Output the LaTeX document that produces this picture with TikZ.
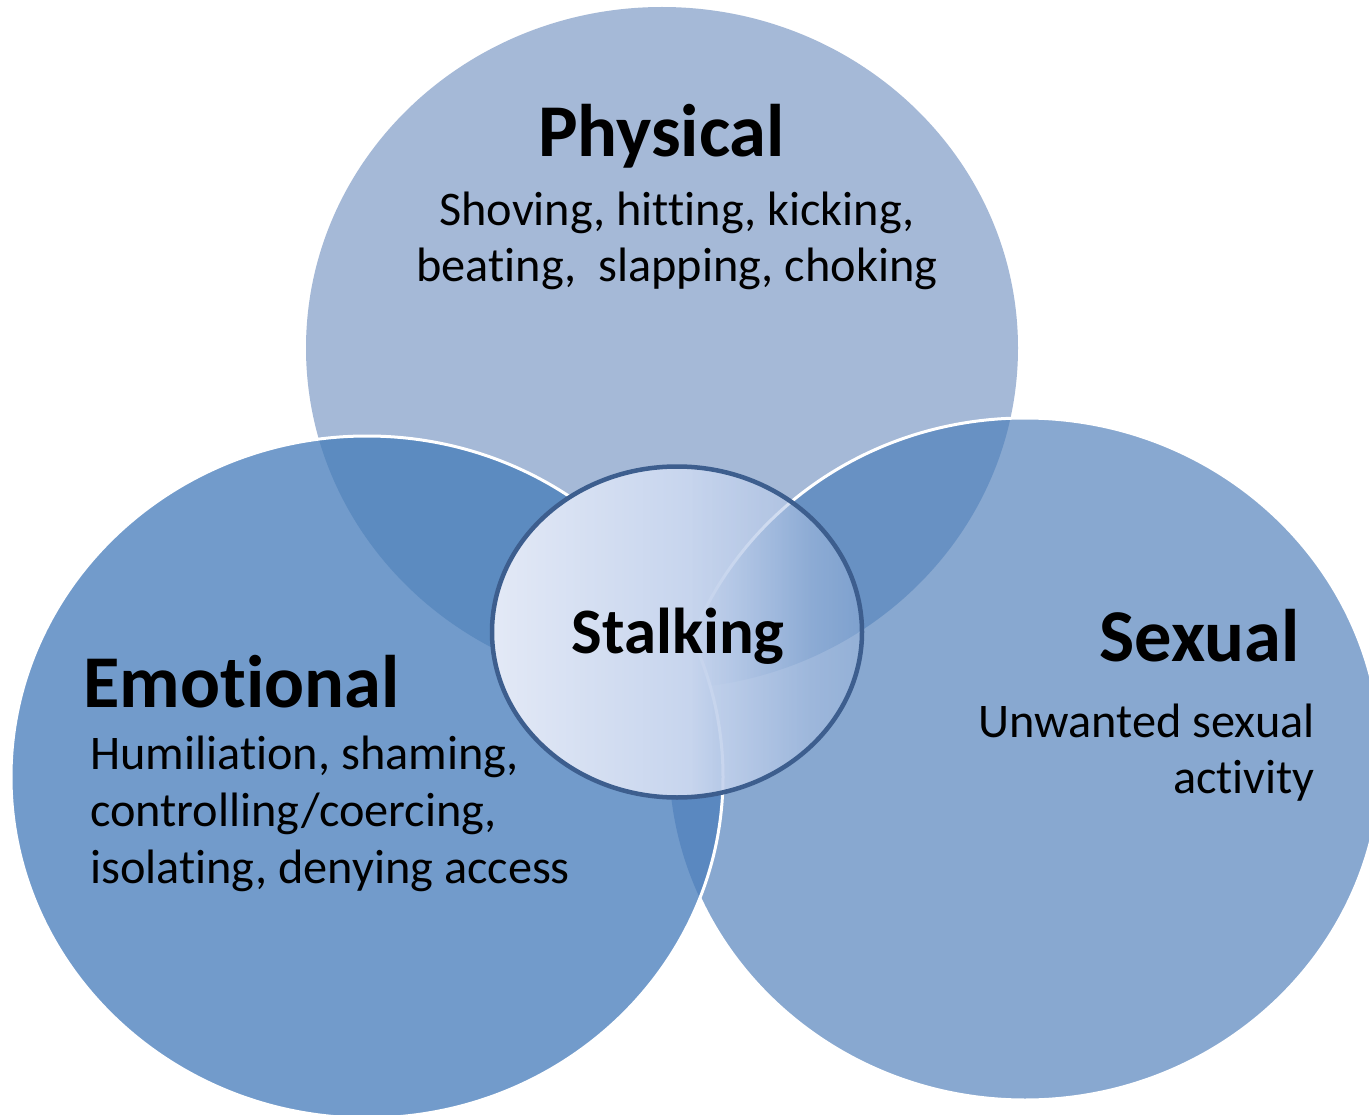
\documentclass[tikz,border=0pt]{standalone}
\usepackage{fontspec}
\setmainfont{Carlito}[Ligatures=CommonOff]
\usetikzlibrary{fadings}

\definecolor{physfill}{HTML}{A5B9D7}
\definecolor{emofill}{HTML}{729BCB}
\definecolor{sexfill}{HTML}{88A8D0}
\definecolor{pefill}{HTML}{5C8BC0}
\definecolor{psfill}{HTML}{6891C3}
\definecolor{esfill}{HTML}{5A88C0}
\definecolor{stalkL}{HTML}{E3E9F6}
\definecolor{stalkR}{HTML}{AEC3E6}
\definecolor{stalkline}{HTML}{3D5E8E}

% opacity profile of the central ellipse: solid on the left, clear on the right
\pgfdeclarehorizontalshading{stalkfadeshade}{100bp}{%
  color(0bp)=(white); color(52bp)=(white);
  color(58bp)=(white!85!black); color(63bp)=(white!68!black);
  color(68bp)=(white!48!black); color(75bp)=(white!32!black);
  color(83bp)=(white!20!black); color(100bp)=(white!8!black)}
\pgfdeclarefading{stalkfade}{\pgfuseshading{stalkfadeshade}}

\tikzset{
  disc/.style={x radius=356pt, y radius=341pt},
  rim/.style={draw=white, line width=3pt},
  title/.style={font=\fontsize{74.5}{84}\selectfont\bfseries, inner sep=0pt, text=black},
  centre title/.style={font=\fontsize{64.8}{74}\selectfont\bfseries, inner sep=0pt, text=black},
  body/.style={font=\fontsize{48.3}{58}\selectfont, inner sep=0pt, text=black},
}

\begin{document}
\begin{tikzpicture}[x=1pt, y=-1pt]
  \useasboundingbox (0,0) rectangle (1369,1115);
  \fill[white] (0,0) rectangle (1369,1115);

  \coordinate (pc) at (662,348);
  \coordinate (ec) at (367,777);
  \coordinate (sc) at (1025,759);
  \coordinate (kc) at (677,632);

  \begin{scope}
    \clip (0,0) rectangle (1369,1115);
    % physical and sexual discs with their overlap
    \fill[physfill] (pc) ellipse [disc];
    \fill[sexfill] (sc) ellipse [disc];
    \begin{scope}
      \clip (pc) ellipse [disc];
      \fill[psfill] (sc) ellipse [disc];
    \end{scope}
    \draw[rim] (sc) ellipse [disc];
    % emotional disc on top
    \fill[emofill] (ec) ellipse [disc];
    \begin{scope}
      \clip (ec) ellipse [disc];
      \fill[pefill] (pc) ellipse [disc];
      \fill[esfill] (sc) ellipse [disc];
    \end{scope}
    \draw[rim] (ec) ellipse [disc];

    % central ellipse
    \shade[left color=stalkL, right color=stalkR, path fading=stalkfade]
      (kc) ellipse [x radius=185pt, y radius=165.5pt];
    \draw[stalkline, line width=4.5pt] (kc) ellipse [x radius=185pt, y radius=165.5pt];
  \end{scope}

  % labels
  \node[title, anchor=base] (phys) at (661.5,157) {Physical};
  \node[body, anchor=base] (phys1) at (677,226) {Shoving, hitting, kicking,};
  \node[body, anchor=base] (phys2) at (677,282) {beating,\ \ slapping, choking};

  \node[centre title, anchor=base] (stalking) at (678,653) {Stalking};

  \node[title, anchor=base west] (emo) at (83,707) {Emotional};
  \node[body, anchor=base west] (emo1) at (90,769) {Humiliation, shaming,};
  \node[body, anchor=base west] (emo2) at (90,826) {controlling/coercing,};
  \node[body, anchor=base west] (emo3) at (90,883) {isolating, denying access};

  \node[title, anchor=base east] (sex) at (1300,661) {Sexual};
  \node[body, anchor=base east] (sex1) at (1315,737) {Unwanted sexual};
  \node[body, anchor=base east] (sex2) at (1315,793) {activity};
\end{tikzpicture}
\end{document}
